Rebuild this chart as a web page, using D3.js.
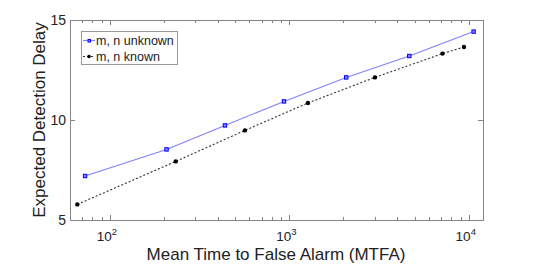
<!DOCTYPE html>
<html>
<head>
<meta charset="utf-8">
<script src="https://cdn.jsdelivr.net/npm/d3@7"></script>
<style>
  body { margin: 0; background: #fff; }
  text { font-family: "Liberation Sans", Arial, sans-serif; fill: #222; }
</style>
</head>
<body>
<svg width="534" height="268"></svg>
<script>
// data
var unknownX = [72.8, 207, 438, 934, 2075, 4660, 10640];
var unknownY = [7.2, 8.53, 9.73, 10.93, 12.13, 13.2, 14.42];
var knownX = [65.9, 233, 566, 1270, 3000, 7140, 9400];
var knownY = [5.78, 7.93, 9.48, 10.85, 12.13, 13.32, 13.65];
var seriesNames = ["m, n unknown", "m, n known"];
var yTicks = [5, 10, 15];
var xTicks = [100, 1000, 10000];

var svg = d3.select("svg");
var pLeft = 70, pRight = 483, pTop = 20, pBottom = 220;

var x = d3.scaleLog().domain([60, 12000]).range([pLeft, pRight]);
var y = d3.scaleLinear().domain([5, 15]).range([pBottom, pTop]);

var axisColor = "#858585";

// minor ticks for log axis
var minor = [];
[10, 100, 1000, 10000].forEach(function(d) {
  for (var k = 1; k < 10; k++) {
    var v = d * k;
    if (v >= 60 && v <= 12000) minor.push(v);
  }
});

var g = svg.append("g");
g.append("rect")
  .attr("x", pLeft + 0.5).attr("y", pTop + 0.5)
  .attr("width", pRight - pLeft).attr("height", pBottom - pTop)
  .attr("fill", "none").attr("stroke", axisColor).attr("stroke-width", 1);

minor.forEach(function(v) {
  var major = xTicks.indexOf(v) >= 0;
  var len = major ? 5 : 3;
  var px = Math.round(x(v)) + 0.5;
  g.append("line").attr("x1", px).attr("x2", px).attr("y1", pBottom).attr("y2", pBottom - len)
    .attr("stroke", axisColor);
  g.append("line").attr("x1", px).attr("x2", px).attr("y1", pTop).attr("y2", pTop + len)
    .attr("stroke", axisColor);
});

yTicks.forEach(function(v) {
  var py = Math.round(y(v)) + 0.5;
  g.append("line").attr("x1", pLeft).attr("x2", pLeft + 5).attr("y1", py).attr("y2", py).attr("stroke", axisColor);
  g.append("line").attr("x1", pRight).attr("x2", pRight - 5).attr("y1", py).attr("y2", py).attr("stroke", axisColor);
  g.append("text").attr("x", pLeft - 4).attr("y", y(v) + 5)
    .attr("text-anchor", "end").attr("font-size", 14).text(v);
});

xTicks.forEach(function(v) {
  var t = g.append("text").attr("x", x(v) - 3).attr("y", 241)
    .attr("text-anchor", "middle").attr("font-size", 13.5);
  t.append("tspan").text("10");
  t.append("tspan").attr("font-size", 9.5).attr("dy", -6).text(Math.round(Math.log10(v)));
});

g.append("text").attr("x", 276).attr("y", 260).attr("text-anchor", "middle")
  .attr("font-size", 17).text("Mean Time to False Alarm (MTFA)");
g.append("text").attr("transform", "translate(45,120) rotate(-90)")
  .attr("text-anchor", "middle").attr("font-size", 17).text("Expected Detection Delay");

var line = d3.line().x(function(d) { return x(d[0]); }).y(function(d) { return y(d[1]); });
var unknown = d3.zip(unknownX, unknownY);
var known = d3.zip(knownX, knownY);

g.append("path").datum(unknown).attr("d", line)
  .attr("fill", "none").attr("stroke", "#8080ff").attr("stroke-width", 1.1);
g.selectAll(".su").data(unknown).enter().append("rect")
  .attr("x", function(d) { return x(d[0]) - 1.7; })
  .attr("y", function(d) { return y(d[1]) - 1.7; })
  .attr("width", 3.4).attr("height", 3.4)
  .attr("fill", "#8888ff").attr("stroke", "#0000ff").attr("stroke-width", 1);

g.append("path").datum(known).attr("d", line)
  .attr("fill", "none").attr("stroke", "#333").attr("stroke-width", 1.1)
  .attr("stroke-dasharray", "2,2");
g.selectAll(".sk").data(known).enter().append("circle")
  .attr("cx", function(d) { return x(d[0]); })
  .attr("cy", function(d) { return y(d[1]); })
  .attr("r", 2.2).attr("fill", "#000");

// legend
var lg = g.append("g");
lg.append("rect").attr("x", 81.5).attr("y", 31.5).attr("width", 96).attr("height", 33)
  .attr("fill", "#fff").attr("stroke", "#999");
lg.append("line").attr("x1", 83).attr("x2", 95).attr("y1", 40.5).attr("y2", 40.5)
  .attr("stroke", "#8080ff").attr("stroke-width", 1.1);
lg.append("rect").attr("x", 88).attr("y", 39.5).attr("width", 2.5).attr("height", 2.5)
  .attr("fill", "#8888ff").attr("stroke", "#0000ff");
lg.append("line").attr("x1", 83).attr("x2", 95).attr("y1", 56.5).attr("y2", 56.5)
  .attr("stroke", "#333").attr("stroke-width", 1.1).attr("stroke-dasharray", "2,2");
lg.append("circle").attr("cx", 89).attr("cy", 56.5).attr("r", 1.8).attr("fill", "#000");
lg.append("text").attr("x", 96).attr("y", 45).attr("font-size", 12.5).text(seriesNames[0]);
lg.append("text").attr("x", 96).attr("y", 61).attr("font-size", 12.5).text(seriesNames[1]);
</script>
</body>
</html>
